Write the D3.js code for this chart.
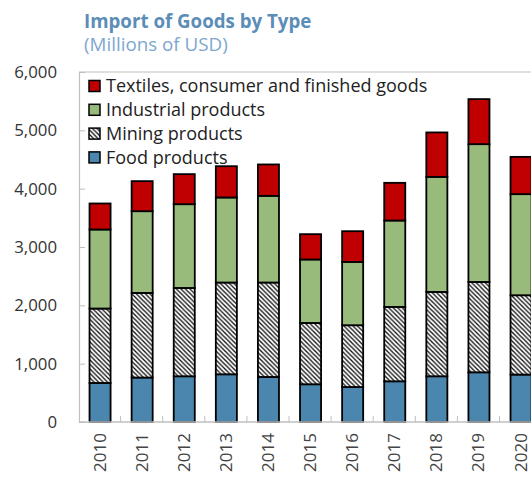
<!DOCTYPE html>
<html>
<head>
<meta charset="utf-8">
<script src="https://cdn.jsdelivr.net/npm/d3@7"></script>
<style>
  body { margin: 0; background: #fff; }
  svg { display: block; font-family: "Open Sans", "Noto Sans", sans-serif; }
</style>
</head>
<body>
<svg id="chart" width="531" height="477"></svg>
<script>
'use strict';

// values (millions of USD)
let years = ["2010", "2011", "2012", "2013", "2014", "2015", "2016", "2017", "2018", "2019", "2020"];
let food = [669, 762, 784, 818, 772, 647, 600, 698, 784, 852, 813];
let mining = [1276, 1451, 1514, 1573, 1619, 1051, 1059, 1275, 1446, 1549, 1360];
let industrial = [1355, 1401, 1436, 1458, 1486, 1088, 1085, 1481, 1972, 2362, 1733];
let textiles = [446, 515, 515, 536, 538, 434, 527, 646, 762, 772, 639];
let yTicks = [0, 1000, 2000, 3000, 4000, 5000, 6000];

let seriesNames = ["Food products", "Mining products", "Industrial products", "Textiles, consumer and finished goods"];
let seriesKeys = ["food", "mining", "industrial", "textiles"];

let fills = {
    food: "#4A86AE",
    mining: "url(#hatch)",
    industrial: "#98BB7C",
    textiles: "#C00000"
};

let svg = d3.select("#chart");

// hatch for mining
let defs = svg.append("defs");
let pat = defs.append("pattern")
    .attr("id", "hatch")
    .attr("patternUnits", "userSpaceOnUse")
    .attr("width", 4.5)
    .attr("height", 4.5);
pat.append("rect").attr("width", 4.5).attr("height", 4.5).attr("fill", "#fff");
pat.append("path")
    .attr("d", "M-1,-1 L5.5,5.5 M-1,3.5 L1,5.5 M3.5,-1 L5.5,1")
    .attr("stroke", "#111")
    .attr("stroke-width", 1.3);

let plotLeft = 79, plotTop = 72, plotBottom = 422;
let step = 42.1;

let x = d3.scaleBand()
    .domain(years)
    .range([plotLeft, plotLeft + step * years.length])
    .paddingInner(0.5)
    .paddingOuter(0.25);

let y = d3.scaleLinear()
    .domain([0, 6000])
    .range([plotBottom, plotTop]);

// table for the stack
let rows = years.map(function(yr, i) {
    return { year: yr, food: food[i], mining: mining[i], industrial: industrial[i], textiles: textiles[i] };
});
let stacked = d3.stack().keys(seriesKeys)(rows);

// title
svg.append("text")
    .attr("x", 84).attr("y", 28)
    .attr("font-size", 18.7).attr("font-weight", "bold")
    .attr("fill", "#5B8DB8")
    .text("Import of Goods by Type");
svg.append("text")
    .attr("x", 84).attr("y", 51)
    .attr("font-size", 18.8)
    .attr("fill", "#7DA7CF")
    .text("(Millions of USD)");

// plot frame top line
svg.append("line")
    .attr("x1", plotLeft).attr("x2", 531)
    .attr("y1", y(6000)).attr("y2", y(6000))
    .attr("stroke", "#BFBFBF").attr("stroke-width", 1.2);

// y axis
let yAxis = svg.append("g")
    .attr("transform", "translate(" + plotLeft + ",0)")
    .call(d3.axisRight(y).tickValues(yTicks).tickSize(6).tickFormat(""));
yAxis.select(".domain").attr("stroke", "#BFBFBF").attr("stroke-width", 1.2);
yAxis.selectAll(".tick line").attr("stroke", "#BFBFBF");

svg.append("g").selectAll("text")
    .data(yTicks)
    .enter().append("text")
    .attr("x", 57)
    .attr("y", function(d) { return y(d); })
    .attr("dy", "0.35em")
    .attr("text-anchor", "end")
    .attr("font-size", 16.8)
    .attr("fill", "#333")
    .text(function(d) { return d3.format(",")(d); });

// bars
let layer = svg.append("g").selectAll("g")
    .data(stacked)
    .enter().append("g")
    .attr("fill", function(d) { return fills[d.key]; });

layer.selectAll("rect")
    .data(function(d) { return d; })
    .enter().append("rect")
    .attr("x", function(d) { return x(d.data.year); })
    .attr("width", x.bandwidth())
    .attr("y", function(d) { return y(d[1]); })
    .attr("height", function(d) { return y(d[0]) - y(d[1]); })
    .attr("stroke", "#000")
    .attr("stroke-width", 1.8);

// x axis baseline + ticks between bars
let xAxis = svg.append("g");
xAxis.append("line")
    .attr("x1", plotLeft).attr("x2", 531)
    .attr("y1", plotBottom).attr("y2", plotBottom)
    .attr("stroke", "#BFBFBF").attr("stroke-width", 1.5);
xAxis.selectAll(".xt")
    .data(years.slice(1))
    .enter().append("line")
    .attr("x1", function(d) { return x(d) - x.step() * x.paddingInner() / 2 - 0.5; })
    .attr("x2", function(d) { return x(d) - x.step() * x.paddingInner() / 2 - 0.5; })
    .attr("y1", plotBottom).attr("y2", plotBottom - 6)
    .attr("stroke", "#BFBFBF");

xAxis.selectAll("text")
    .data(years)
    .enter().append("text")
    .attr("transform", function(d) {
        return "translate(" + (x(d) + x.bandwidth() / 2 + 5.5) + "," + (plotBottom + 11) + ") rotate(-90)";
    })
    .attr("text-anchor", "end")
    .attr("font-size", 17)
    .attr("fill", "#444")
    .text(function(d) { return d; });

// legend (top entry is the top of the stack)
let legend = svg.append("g");
let legendItems = seriesKeys.slice().reverse();
legendItems.forEach(function(k, i) {
    let cy = 86 + i * 23.8;
    legend.append("rect")
        .attr("x", 89).attr("y", cy - 5.5)
        .attr("width", 11).attr("height", 11)
        .attr("fill", fills[k])
        .attr("stroke", "#000").attr("stroke-width", 1.5);
    legend.append("text")
        .attr("x", 106).attr("y", cy)
        .attr("dy", "0.35em")
        .attr("font-size", 18)
        .attr("fill", "#222")
        .text(seriesNames[seriesKeys.indexOf(k)]);
});
</script>
</body>
</html>
